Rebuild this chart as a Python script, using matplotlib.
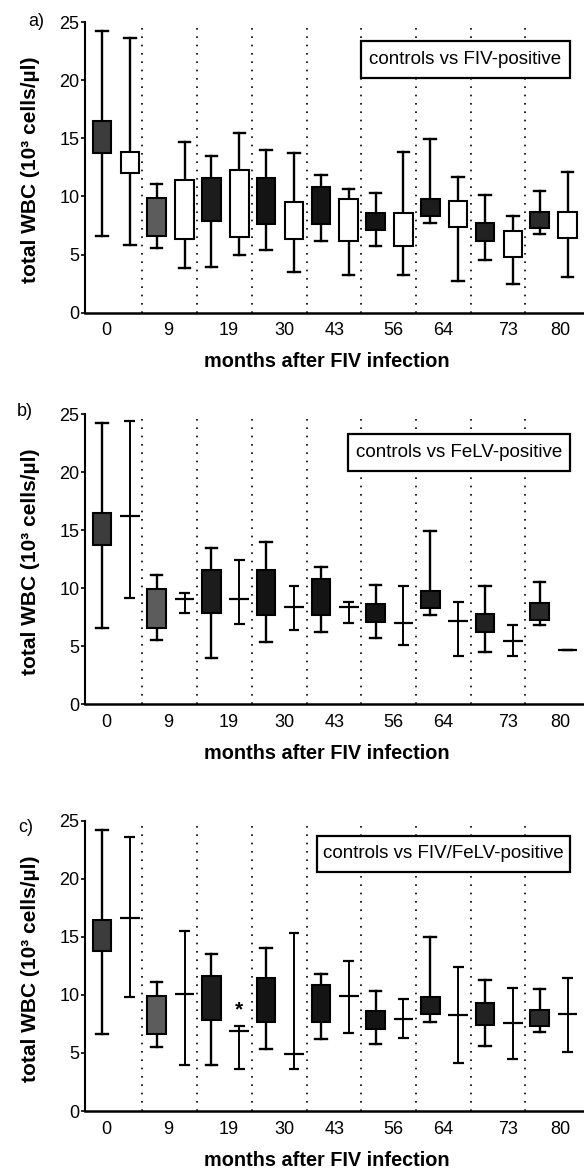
import matplotlib.pyplot as plt
from matplotlib.patches import Rectangle
import numpy as np

plt.rcParams['font.family'] = ['Liberation Sans', 'DejaVu Sans']

months = ['0', '9', '19', '30', '43', '56', '64', '73', '80']

# controls (panels a and b) - box plots
ctrl_min = [6.6, 5.55, 3.95, 5.35, 6.2, 5.75, 7.7, 4.5, 6.8]
ctrl_q1 = [13.75, 6.6, 7.85, 7.65, 7.65, 7.07, 8.3, 6.2, 7.3]
ctrl_med = [15.0, 8.2, 9.5, 9.5, 9.0, 7.9, 9.1, 7.0, 8.1]
ctrl_q3 = [16.45, 9.9, 11.6, 11.55, 10.8, 8.6, 9.8, 7.75, 8.7]
ctrl_max = [24.2, 11.1, 13.5, 14.0, 11.8, 10.3, 14.95, 10.15, 10.5]

# controls as drawn in panel c
ctrl_c_min = [6.6, 5.55, 3.95, 5.35, 6.2, 5.75, 7.7, 5.6, 6.8]
ctrl_c_q1 = [13.75, 6.6, 7.85, 7.65, 7.65, 7.07, 8.35, 7.4, 7.3]
ctrl_c_med = [15.0, 8.2, 9.5, 9.5, 9.0, 7.9, 9.1, 8.3, 8.1]
ctrl_c_q3 = [16.45, 9.9, 11.6, 11.5, 10.85, 8.6, 9.8, 9.3, 8.7]
ctrl_c_max = [24.2, 11.1, 13.5, 14.0, 11.8, 10.3, 14.95, 11.3, 10.5]

# FIV-positive (panel a) - box plots
fiv_min = [5.8, 3.8, 5.0, 3.5, 3.25, 3.25, 2.75, 2.5, 3.1]
fiv_q1 = [12.05, 6.3, 6.5, 6.3, 6.2, 5.75, 7.35, 4.75, 6.45]
fiv_med = [12.9, 8.85, 12.2, 7.47, 7.95, 7.2, 8.9, 5.7, 7.2]
fiv_q3 = [13.8, 11.45, 12.25, 9.5, 9.8, 8.6, 9.6, 7.0, 8.7]
fiv_max = [23.6, 14.7, 15.45, 13.75, 10.65, 13.8, 11.7, 8.3, 12.1]

# FeLV-positive (panel b) - range and median
felv_min = [9.15, 7.9, 6.9, 6.4, 7.0, 5.1, 4.15, 4.15, 4.7]
felv_med = [16.2, 9.05, 9.05, 8.35, 8.4, 7.0, 7.2, 5.45, 4.7]
felv_max = [24.4, 9.6, 12.45, 10.2, 8.85, 10.2, 8.85, 6.8, 4.7]

# FIV/FeLV-positive (panel c) - range and median
dual_min = [9.8, 3.95, 3.6, 3.6, 6.7, 6.25, 4.15, 4.5, 5.1]
dual_med = [16.65, 10.05, 6.9, 4.9, 9.9, 7.9, 8.3, 7.55, 8.35]
dual_max = [23.6, 15.5, 7.3, 15.35, 12.9, 9.65, 12.4, 10.6, 11.5]

ctrl_shade = ['#3c3c3c', '#5c5c5c', '#1c1c1c', '#141414', '#141414',
              '#141414', '#1c1c1c', '#222222', '#2a2a2a']

x = np.arange(len(months))
x_ctrl = x - 0.24
x_pos = x + 0.27
tick_pos = [-0.16, 0.97, 2.07, 3.09, 4.02, 5.08, 6.0, 7.18, 8.14]


def stats(lo, q1, med, q3, hi):
    return [dict(whislo=a, q1=b, med=c, q3=d, whishi=e)
            for a, b, c, d, e in zip(lo, q1, med, q3, hi)]


def boxes(ax, st, pos, face, med_color):
    res = ax.bxp(st, positions=pos, widths=0.34, capwidths=0.21,
                 patch_artist=True, showfliers=False, manage_ticks=False,
                 boxprops=dict(facecolor='white', edgecolor='k', linewidth=1.5),
                 whiskerprops=dict(color='k', linewidth=1.7),
                 capprops=dict(color='k', linewidth=1.7),
                 medianprops=dict(color=med_color, linewidth=1.4))
    for b, c in zip(res['boxes'], face):
        b.set_facecolor(c)
        b.set_zorder(3)


def ranges(ax, lo, med, hi):
    ax.vlines(x_pos, lo, hi, color='k', lw=1.4, zorder=3)
    ax.hlines(lo, x_pos - 0.1, x_pos + 0.1, color='k', lw=1.6, zorder=3)
    ax.hlines(hi, x_pos - 0.1, x_pos + 0.1, color='k', lw=1.6, zorder=3)
    ax.hlines(med, x_pos - 0.18, x_pos + 0.18, color='k', lw=1.6, zorder=3)


def setup(ax, title, box):
    ax.set_xlim(-0.55, 8.57)
    ax.set_ylim(0, 25)
    ax.spines['top'].set_visible(False)
    ax.spines['right'].set_visible(False)
    ax.spines['left'].set_linewidth(1.5)
    ax.spines['bottom'].set_linewidth(1.8)
    ax.set_yticks([0, 5, 10, 15, 20, 25])
    ax.set_xticks(tick_pos, months)
    ax.tick_params(axis='y', length=3, width=1.2, pad=1, labelsize=13)
    ax.tick_params(axis='x', length=0, pad=7, labelsize=13)
    for s in x[:-1] + 0.5:
        ax.axvline(s, color='k', lw=1.2, ls=(0, (1, 4)), zorder=1)
    ax.set_ylabel('total WBC (10³ cells/µl)', fontsize=15, fontweight='bold')
    ax.yaxis.set_label_coords(-0.09, 0.49)
    ax.set_xlabel('months after FIV infection', fontsize=14.3, fontweight='bold')
    ax.xaxis.set_label_coords(0.485, -0.137)
    ax.add_patch(Rectangle((box[0], box[1]), box[2], box[3], transform=ax.transAxes,
                           facecolor='white', edgecolor='k', lw=1.6, zorder=5))
    ax.text(box[0] + box[2] / 2, box[1] + box[3] / 2, title, transform=ax.transAxes,
            ha='center', va='center', fontsize=13.5, zorder=6)


fig = plt.figure(figsize=(5.84, 11.71), dpi=100)
ax_a = fig.add_axes([0.1455, 0.7330, 0.8545, 0.2482])
ax_b = fig.add_axes([0.1455, 0.3986, 0.8545, 0.2477])
ax_c = fig.add_axes([0.1455, 0.0512, 0.8545, 0.2479])

# a) controls vs FIV-positive
setup(ax_a, 'controls vs FIV-positive', (0.553, 0.808, 0.419, 0.128))
boxes(ax_a, stats(ctrl_min, ctrl_q1, ctrl_med, ctrl_q3, ctrl_max), x_ctrl, ctrl_shade, '#1c1c1c')
boxes(ax_a, stats(fiv_min, fiv_q1, fiv_med, fiv_q3, fiv_max), x_pos, ['white'] * 9, 'k')

# b) controls vs FeLV-positive
setup(ax_b, 'controls vs FeLV-positive', (0.527, 0.804, 0.445, 0.127))
boxes(ax_b, stats(ctrl_min, ctrl_q1, ctrl_med, ctrl_q3, ctrl_max), x_ctrl, ctrl_shade, '#1c1c1c')
ranges(ax_b, felv_min, felv_med, felv_max)

# c) controls vs FIV/FeLV-positive
setup(ax_c, 'controls vs FIV/FeLV-positive', (0.465, 0.824, 0.507, 0.123))
boxes(ax_c, stats(ctrl_c_min, ctrl_c_q1, ctrl_c_med, ctrl_c_q3, ctrl_c_max), x_ctrl, ctrl_shade, '#1c1c1c')
ranges(ax_c, dual_min, dual_med, dual_max)
ax_c.text(x_pos[2], dual_max[2] + 0.6, '*', ha='center', va='bottom',
          fontsize=15, fontweight='bold')

fig.text(36 / 584, 1 - 21 / 1171, 'a)', fontsize=13, ha='center', va='center')
fig.text(25 / 584, 1 - 412 / 1171, 'b)', fontsize=13, ha='center', va='center')
fig.text(26 / 584, 1 - 828 / 1171, 'c)', fontsize=13, ha='center', va='center')

fig.savefig('out.png', dpi=100)
